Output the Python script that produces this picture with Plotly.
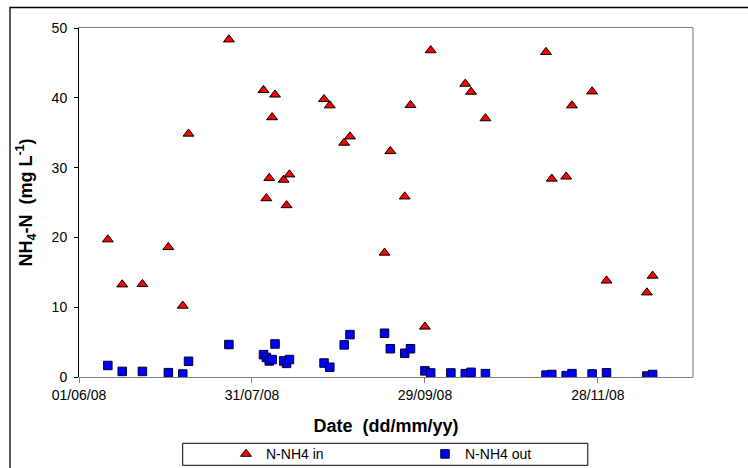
import plotly.graph_objects as go

# Sampling dates and ammonium-nitrogen concentrations (mg/L)
dates = [
    "2008-06-11", "2008-06-16", "2008-06-23", "2008-07-02", "2008-07-07",
    "2008-07-09", "2008-07-23", "2008-08-04", "2008-08-05", "2008-08-06",
    "2008-08-07", "2008-08-08", "2008-08-11", "2008-08-12", "2008-08-13",
    "2008-08-25", "2008-08-27", "2008-09-01", "2008-09-03", "2008-09-15",
    "2008-09-17", "2008-09-22", "2008-09-24", "2008-09-29", "2008-10-01",
    "2008-10-08", "2008-10-13", "2008-10-15", "2008-10-20", "2008-11-10",
    "2008-11-12", "2008-11-17", "2008-11-19", "2008-11-26", "2008-12-01",
    "2008-12-15", "2008-12-17",
]
nh4_in = [
    19.7, 13.25, 13.3, 18.6, 10.2,
    34.85, 48.35, 41.1, 25.6, 28.5,
    37.2, 40.45, 28.25, 24.6, 29.0,
    39.8, 38.9, 33.55, 34.45, 17.8,
    32.35, 25.85, 38.95, 7.2, 46.8,
    None, 42.0, 40.85, 37.05, 46.55,
    28.4, 28.7, 38.9, 40.9, 13.8,
    12.1, 14.5,
]
nh4_out = [
    1.65, 0.8, 0.8, 0.62, 0.43,
    2.25, 4.65, 3.2, 2.8, 2.3,
    2.5, 4.73, 2.3, 1.95, 2.5,
    2.0, 1.4, 4.6, 6.07, 6.27,
    4.05, 3.4, 4.05, 0.88, 0.58,
    0.58, 0.48, 0.67, 0.48, 0.27,
    0.36, 0.19, 0.48, 0.43, 0.6,
    0.14, 0.36,
]
series_names = ["N-NH4 in", "N-NH4 out"]
x_range = ["2008-06-01", "2008-12-31"]
x_tick_start = "2008-06-01"
x_tick_days = 60
y_range = [0, 50]

FONT = "Arial, 'Liberation Sans', sans-serif"
W, H = 748, 468
ML, MR, MT, MB = 79, 55, 28, 91
PW, PH = W - ML - MR, H - MT - MB


def px_x(p):
    return (p - ML) / PW


def px_y(p):
    return (H - MB - p) / PH


fig = go.Figure()
fig.add_trace(go.Scatter(
    x=dates, y=nh4_in, mode="markers", name=series_names[0],
    marker=dict(symbol="triangle-up", size=9.5, color="#FF0000",
                line=dict(color="black", width=1)),
))
fig.add_trace(go.Scatter(
    x=dates, y=nh4_out, mode="markers", name=series_names[1],
    marker=dict(symbol="square", size=8.5, color="#0000FF",
                line=dict(color="#000033", width=1)),
))

fig.update_layout(
    width=W, height=H,
    margin=dict(l=ML, r=MR, t=MT, b=MB, pad=0, autoexpand=False),
    paper_bgcolor="white", plot_bgcolor="white",
    font=dict(family=FONT, size=14, color="black"),
    showlegend=True,
    legend=dict(
        orientation="h", x=px_x(226), xanchor="left",
        y=px_y(454.3), yanchor="middle",
        bgcolor="rgba(0,0,0,0)", borderwidth=0,
        font=dict(family=FONT, size=14, color="black"),
        entrywidth=154, itemwidth=30,
    ),
    xaxis=dict(
        type="date", range=x_range, automargin=False,
        tick0=x_tick_start, dtick=x_tick_days * 86400000,
        tickformat="%d/%m/%y",
        ticks="outside", ticklen=5, tickcolor="#808080", tickwidth=1,
        showline=True, linecolor="#808080", linewidth=1, mirror=True,
        showgrid=False, zeroline=False,
        tickfont=dict(family=FONT, size=14, color="black"),
        title=dict(text="<b>Date\u00a0 (dd/mm/yy)</b>",
                   font=dict(family=FONT, size=18, color="black"),
                   standoff=17),
    ),
    yaxis=dict(
        range=y_range, dtick=10, automargin=False,
        ticks="outside", ticklen=4, tickcolor="black", tickwidth=1,
        showline=True, linecolor="black", linewidth=1,
        showgrid=False, zeroline=False,
        tickfont=dict(family=FONT, size=14, color="black"),
        ticklabelstandoff=4,
        title=dict(text="<b>NH<sub>4</sub>-N\u00a0 (mg L<sup>-1</sup>)</b>",
                   font=dict(family=FONT, size=18, color="black"),
                   standoff=14),
    ),
    shapes=[
        # right edge of the plot area
        dict(type="line", xref="paper", yref="paper", x0=1, x1=1, y0=0, y1=1,
             line=dict(color="#A0A0A0", width=1.5)),
        # chart frame
        dict(type="rect", xref="paper", yref="paper",
             x0=px_x(10), x1=px_x(760), y0=px_y(480), y1=px_y(7.5),
             line=dict(color="black", width=1.3), layer="below"),
        # legend frame
        dict(type="rect", xref="paper", yref="paper",
             x0=px_x(182.7), x1=px_x(587.8), y0=px_y(465.3), y1=px_y(443.3),
             line=dict(color="black", width=1)),
    ],
)

fig.write_html("out.html")
